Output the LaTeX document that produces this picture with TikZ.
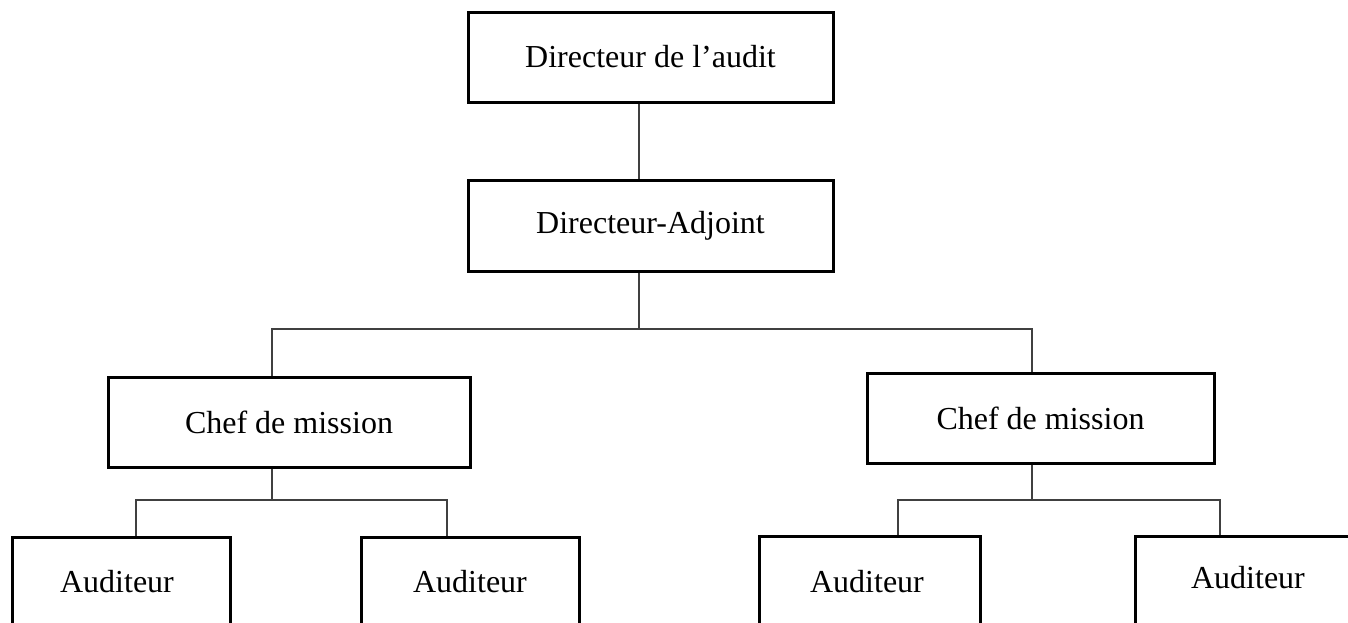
\documentclass[tikz,border=0pt]{standalone}
\usepackage{fontspec}
\setmainfont{Liberation Serif}
\begin{document}
\begin{tikzpicture}[x=1pt,y=-1pt,
  box/.style={draw=black,line width=3pt,inner sep=0pt,font=\fontsize{32}{38}\selectfont},
  conn/.style={draw=black!75,line width=1.3pt},
  lbl/.style={anchor=base,inner sep=0pt,font=\fontsize{32}{38}\selectfont}]
\useasboundingbox (0,0) rectangle (1348,622);
\clip (0,0) rectangle (1348,622);
% boxes
\node[box,minimum width=365pt,minimum height=90pt] (dir) at (650.5,57) {Directeur de l’audit};
\node[box,minimum width=365pt,minimum height=91pt] (adj) at (650.5,225.5) {Directeur-Adjoint};
\node[box,minimum width=362pt,minimum height=90pt] (chefL) at (289,422) {Chef de mission};
\node[box,minimum width=347pt,minimum height=90pt] (chefR) at (1040.5,418) {Chef de mission};
\node[box,minimum width=218pt,minimum height=124pt] (a1) at (121,599) {};
\node[box,minimum width=218pt,minimum height=124pt] (a2) at (470,599) {};
\node[box,minimum width=221pt,minimum height=124pt] (a3) at (869.5,598) {};
\node[box,minimum width=225pt,minimum height=124pt] (a4) at (1248,598) {};
\node[lbl] (t1) at (117,592) {Auditeur};
\node[lbl] (t2) at (470,592) {Auditeur};
\node[lbl] (t3) at (867,592) {Auditeur};
\node[lbl] (t4) at (1248,588) {Auditeur};
% junctions
\coordinate (j0) at (639,329);
\coordinate (jL) at (272,329);
\coordinate (jR) at (1032,329);
\coordinate (kL) at (272,500);
\coordinate (kL1) at (136,500);
\coordinate (kL2) at (447,500);
\coordinate (kR) at (1032,500);
\coordinate (kR1) at (898,500);
\coordinate (kR2) at (1220,500);
% connectors
\draw[conn] (dir.south -| j0) -- (adj.north -| j0);
\draw[conn] (adj.south -| j0) -- (j0);
\draw[conn] (chefL.north -| jL) -- (jL) -- (jR) -- (chefR.north -| jR);
\draw[conn] (chefL.south -| kL) -- (kL);
\draw[conn] (a1.north -| kL1) -- (kL1) -- (kL2) -- (a2.north -| kL2);
\draw[conn] (chefR.south -| kR) -- (kR);
\draw[conn] (a3.north -| kR1) -- (kR1) -- (kR2) -- (a4.north -| kR2);
\end{tikzpicture}
\end{document}
